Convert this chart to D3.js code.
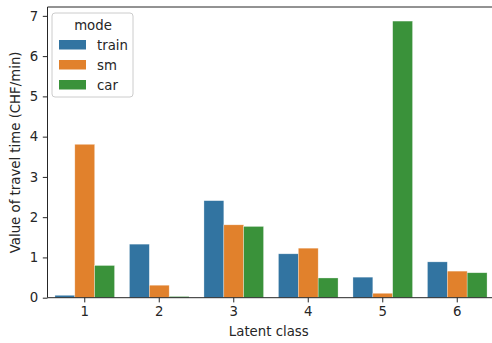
<!DOCTYPE html>
<html>
<script src='https://d3js.org/d3.v7.min.js'></script>
<style>
  html, body { margin: 0; padding: 0; background: #fff; }
  text { font-family: 'DejaVu Sans', sans-serif; fill: #262626; }
</style>
<body>
<div id="vis"></div>
</body>
<script>
// data
var classes = ['1', '2', '3', '4', '5', '6'];
var modes = ['train', 'sm', 'car'];
var train = [0.06, 1.33, 2.41, 1.09, 0.51, 0.89];
var sm = [3.81, 0.31, 1.81, 1.23, 0.11, 0.66];
var car = [0.80, 0.03, 1.77, 0.49, 6.87, 0.62];
var yTicks = [0, 1, 2, 3, 4, 5, 6, 7];
var colours = ['#3274a1', '#e1812c', '#3a923a'];

var series = { train: train, sm: sm, car: car };
var rows = [];
classes.forEach(function(c, i) {
    modes.forEach(function(m) {
        rows.push({ cls: c, mode: m, value: series[m][i] });
    });
});

var width = 492, height = 343;
var margin = { top: 7, bottom: 45.3, left: 47.5, right: -2.5 };

var svg = d3.select('#vis')
    .append('svg')
    .attr('width', width)
    .attr('height', height);

var x_scale = d3.scaleBand()
    .domain(classes)
    .range([margin.left, width - margin.right])
    .padding(0);

var inner = d3.scaleBand()
    .domain(modes)
    .range([x_scale.bandwidth() * 0.1, x_scale.bandwidth() * 0.9])
    .padding(0);

var y_scale = d3.scaleLinear()
    .domain([0, 7.22])
    .range([height - margin.bottom, margin.top]);

var colour_scale = d3.scaleOrdinal()
    .domain(modes)
    .range(colours);

// bars
svg.selectAll('.bar')
    .data(rows)
    .enter()
    .append('rect')
    .attr('class', 'bar')
    .attr('x', function(d) { return x_scale(d.cls) + inner(d.mode); })
    .attr('width', inner.bandwidth())
    .attr('y', function(d) { return y_scale(d.value); })
    .attr('height', function(d) { return y_scale(0) - y_scale(d.value); })
    .attr('fill', function(d) { return colour_scale(d.mode); })
    .attr('stroke', '#ffffff')
    .attr('stroke-opacity', 0.5)
    .attr('stroke-width', 0.6);

// axes
var y_axis = d3.axisLeft(y_scale).tickValues(yTicks).tickSize(4.7).tickPadding(4.5);
var x_axis = d3.axisBottom(x_scale).tickSize(4.7).tickPadding(4.5);

var gy = svg.append('g')
    .attr('transform', 'translate(' + margin.left + ',0)')
    .call(y_axis);
var gx = svg.append('g')
    .attr('transform', 'translate(0,' + y_scale(0) + ')')
    .call(x_axis);

[gx, gy].forEach(function(g) {
    g.select('.domain').remove();
    g.selectAll('line').attr('stroke', '#262626').attr('stroke-width', 1);
    g.selectAll('text').style('font-size', '13.3px').attr('fill', '#262626');
});

// spines
var x0 = margin.left, x1 = width - margin.right;
var y0 = margin.top, y1 = y_scale(0);
svg.append('path')
    .attr('d', 'M' + x0 + ',' + y0 + 'L' + x0 + ',' + y1 + 'L' + x1 + ',' + y1 + 'L' + x1 + ',' + y0 + 'Z')
    .attr('fill', 'none')
    .attr('stroke', '#262626')
    .attr('stroke-width', 1);

// axis labels
svg.append('text')
    .attr('x', (x0 + 494) / 2 - 2)
    .attr('y', 336)
    .attr('text-anchor', 'middle')
    .style('font-size', '13.3px')
    .text('Latent class');

svg.append('text')
    .attr('transform', 'translate(20,' + (y0 + y1) / 2 + ') rotate(-90)')
    .attr('text-anchor', 'middle')
    .style('font-size', '13.3px')
    .text('Value of travel time (CHF/min)');

// legend
var legend = svg.append('g').attr('transform', 'translate(52,13)');
legend.append('rect')
    .attr('width', 81)
    .attr('height', 84)
    .attr('rx', 3)
    .attr('fill', '#ffffff')
    .attr('fill-opacity', 0.8)
    .attr('stroke', '#cccccc')
    .attr('stroke-width', 1);
legend.append('text')
    .attr('x', 41)
    .attr('y', 17)
    .attr('text-anchor', 'middle')
    .style('font-size', '13.3px')
    .text('mode');
var items = legend.selectAll('.item')
    .data(modes)
    .enter()
    .append('g')
    .attr('class', 'item')
    .attr('transform', function(d, i) { return 'translate(7,' + (27 + i * 20) + ')'; });
items.append('rect')
    .attr('width', 27)
    .attr('height', 9.5)
    .attr('fill', function(d) { return colour_scale(d); });
items.append('text')
    .attr('x', 38)
    .attr('y', 9.5)
    .style('font-size', '13.3px')
    .text(function(d) { return d; });
</script>
</html>
